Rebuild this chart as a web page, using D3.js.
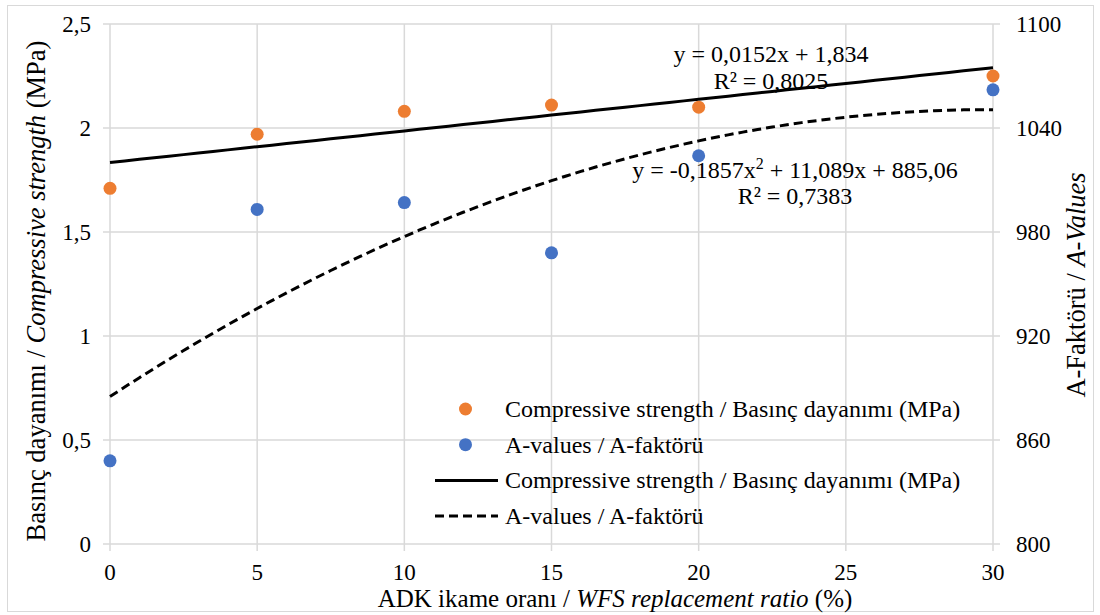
<!DOCTYPE html>
<html>
<head>
<meta charset="utf-8">
<script src="https://cdn.jsdelivr.net/npm/d3@7"></script>
<style>
  body { margin: 0; background: #fff; }
</style>
</head>
<body>
<div id="chart"></div>
<script>
// Replacement ratio (%)
const ratios = [0, 5, 10, 15, 20, 30];
// Compressive strength (MPa), left axis
const strength = [1.71, 1.97, 2.08, 2.11, 2.10, 2.25];
// A-values, right axis
const aValues = [848, 993, 997, 968, 1024, 1062];
// Trendline coefficients as printed on the chart (c0 + c1*x + c2*x^2)
const strengthFit = [1.834, 0.0152];
const aValuesFit = [885.06, 11.089, -0.1857];

const xTicks = [0, 5, 10, 15, 20, 25, 30];
const leftTicks = [0, 0.5, 1, 1.5, 2, 2.5];
const rightTicks = [800, 860, 920, 980, 1040, 1100];

const width = 1100, height = 615;
const margin = { top: 24, right: 107, bottom: 70, left: 110 };
const FONT = 'Liberation Serif';

const svg = d3.select('#chart')
    .append('svg')
    .attr('width', width)
    .attr('height', height);

// text helper so the serif face is set on every text node
const label = (sel, size) => sel.append('text')
    .attr('font-family', FONT)
    .attr('font-size', size)
    .attr('fill', '#000');

// outer chart border
svg.append('rect')
    .attr('x', 7.5).attr('y', 5.5)
    .attr('width', 1086).attr('height', 606)
    .attr('fill', 'none')
    .attr('stroke', '#d9d9d9');

const x = d3.scaleLinear().domain([0, 30]).range([margin.left, width - margin.right]);
const yL = d3.scaleLinear().domain([0, 2.5]).range([height - margin.bottom - 1, margin.top]);
const yR = d3.scaleLinear().domain([800, 1100]).range([height - margin.bottom - 1, margin.top]);

const comma = d => String(d).replace('.', ',');

// gridlines
const grid = svg.append('g').attr('stroke', '#d9d9d9').attr('stroke-width', 1.5);
grid.selectAll('.h').data(leftTicks).enter().append('line')
    .attr('x1', x(0) - 7).attr('x2', x(30) + 7)
    .attr('y1', d => yL(d)).attr('y2', d => yL(d));
grid.selectAll('.v').data(xTicks).enter().append('line')
    .attr('x1', d => x(d)).attr('x2', d => x(d))
    .attr('y1', yL(2.5)).attr('y2', yL(0) + 7);

// tick labels
leftTicks.forEach(d => {
    label(svg, 23).attr('x', x(0) - 19).attr('y', yL(d) + 7.5)
        .attr('text-anchor', 'end').text(comma(d));
});
rightTicks.forEach(d => {
    label(svg, 23).attr('x', x(30) + 23).attr('y', yR(d) + 7.5).text(d);
});
xTicks.forEach(d => {
    label(svg, 23).attr('x', x(d)).attr('y', yL(0) + 36)
        .attr('text-anchor', 'middle').text(d);
});

// axis titles
const lt = label(svg, 26.5)
    .attr('transform', 'translate(45,291) rotate(-90)')
    .attr('text-anchor', 'middle');
lt.append('tspan').text('Basınç dayanımı / ');
lt.append('tspan').attr('font-style', 'italic').text('Compressive strength');
lt.append('tspan').text(' (MPa)');

const rt = label(svg, 26.5)
    .attr('transform', 'translate(1085,285) rotate(-90)')
    .attr('text-anchor', 'middle');
rt.append('tspan').text('A-Faktörü / ');
rt.append('tspan').attr('font-style', 'italic').text('A-Values');

const xt = label(svg, 25)
    .attr('x', 615).attr('y', 607)
    .attr('text-anchor', 'middle');
xt.append('tspan').text('ADK ikame oranı / ');
xt.append('tspan').attr('font-style', 'italic').text('WFS replacement ratio');
xt.append('tspan').text(' (%)');

// trendlines
const xs = d3.range(0, 30.01, 0.5);
const poly = (c, v) => c.reduce((s, k, i) => s + k * Math.pow(v, i), 0);

svg.append('path')
    .datum(xs)
    .attr('fill', 'none').attr('stroke', '#000').attr('stroke-width', 3)
    .attr('d', d3.line().x(d => x(d)).y(d => yL(poly(strengthFit, d))));

svg.append('path')
    .datum(xs)
    .attr('fill', 'none').attr('stroke', '#000').attr('stroke-width', 3)
    .attr('stroke-dasharray', '9,5')
    .attr('d', d3.line().x(d => x(d)).y(d => yR(poly(aValuesFit, d))));

// points
svg.append('g').selectAll('circle').data(ratios).enter().append('circle')
    .attr('cx', d => x(d)).attr('cy', (d, i) => yL(strength[i]))
    .attr('r', 6.5).attr('fill', '#ED7D31');
svg.append('g').selectAll('circle').data(ratios).enter().append('circle')
    .attr('cx', d => x(d)).attr('cy', (d, i) => yR(aValues[i]))
    .attr('r', 6.5).attr('fill', '#4472C4');

// trendline equations
label(svg, 24).attr('x', 771).attr('y', 62).attr('text-anchor', 'middle').text('y = 0,0152x + 1,834');
label(svg, 24).attr('x', 771).attr('y', 89).attr('text-anchor', 'middle').text('R² = 0,8025');
const q = label(svg, 24).attr('x', 795).attr('y', 178).attr('text-anchor', 'middle');
q.append('tspan').text('y = -0,1857x');
q.append('tspan').attr('font-size', 16).attr('dy', -9).text('2');
q.append('tspan').attr('dy', 9).text(' + 11,089x + 885,06');
label(svg, 24).attr('x', 795).attr('y', 204).attr('text-anchor', 'middle').text('R² = 0,7383');

// legend
const legendItems = [
    { type: 'dot', color: '#ED7D31', label: 'Compressive strength / Basınç dayanımı (MPa)' },
    { type: 'dot', color: '#4472C4', label: 'A-values / A-faktörü' },
    { type: 'line', dash: null, label: 'Compressive strength / Basınç dayanımı (MPa)' },
    { type: 'line', dash: '9,5', label: 'A-values / A-faktörü' }
];
const legend = svg.append('g').attr('transform', 'translate(435,409)');
legendItems.forEach((item, i) => {
    const g = legend.append('g').attr('transform', `translate(0,${i * 35.7})`);
    if (item.type === 'dot') {
        g.append('circle').attr('cx', 30.5).attr('cy', 0).attr('r', 6.5).attr('fill', item.color);
    } else {
        g.append('line').attr('x1', 0).attr('x2', 63).attr('y1', 0).attr('y2', 0)
            .attr('stroke', '#000').attr('stroke-width', 3)
            .attr('stroke-dasharray', item.dash);
    }
    label(g, 24).attr('x', 70).attr('y', 8).text(item.label);
});
</script>
</body>
</html>
